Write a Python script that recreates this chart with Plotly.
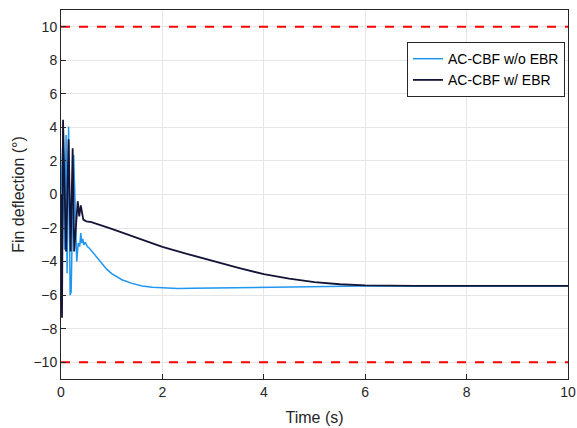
import plotly.graph_objects as go

# Time (s) and fin deflection (deg) for each series
t_wo = [0, 0.03, 0.07, 0.10, 0.12, 0.15, 0.18, 0.20, 0.25, 0.31, 0.34, 0.37, 0.39, 0.41, 0.43,
        0.45, 0.48, 0.52, 0.56, 0.6, 0.7, 0.8, 0.9, 1.0, 1.2, 1.4, 1.6, 1.8, 2.0, 2.3, 2.6,
        3.0, 4.0, 5.0, 6.0, 7.0, 10.0]
y_wo = [0, 2.8, -3.3, 3.55, -4.7, 4.05, -6.0, -5.8, 2.36, -4.0, -2.9, -3.1, -2.3, -2.9, -2.65,
        -3.0, -2.85, -3.1, -3.2, -3.35, -3.7, -4.1, -4.45, -4.72, -5.08, -5.3, -5.45, -5.53, -5.57, -5.6, -5.59,
        -5.57, -5.53, -5.49, -5.46, -5.45, -5.45]

t_w = [0, 0.02, 0.04, 0.10, 0.15, 0.19, 0.23, 0.26, 0.33, 0.36, 0.39, 0.44, 0.5, 0.6,
       1.0, 1.5, 2.0, 2.5, 3.0, 3.5, 4.0, 4.5, 5.0, 5.5, 6.0, 6.5, 7.0, 10.0]
y_w = [0, -7.35, 4.45, -3.4, 3.3, -3.4, 2.75, -3.4, -0.4, -1.3, -0.65, -1.5, -1.6, -1.65,
       -2.05, -2.58, -3.12, -3.55, -3.97, -4.37, -4.75, -5.02, -5.22, -5.35, -5.42, -5.45, -5.45, -5.45]

limit_t = [0, 10]
upper_limit = [10, 10]
lower_limit = [-10, -10]

x_ticks = [0, 2, 4, 6, 8, 10]
y_ticks = [-10, -8, -6, -4, -2, 0, 2, 4, 6, 8, 10]

fig = go.Figure()
fig.add_trace(go.Scatter(x=t_wo, y=y_wo, mode="lines", name="AC-CBF w/o EBR",
                         line=dict(color="#1f96f0", width=1.5)))
fig.add_trace(go.Scatter(x=t_w, y=y_w, mode="lines", name="AC-CBF w/ EBR",
                         line=dict(color="#141438", width=1.8)))
fig.add_trace(go.Scatter(x=limit_t, y=upper_limit, mode="lines", showlegend=False,
                         line=dict(color="#ff0000", width=2, dash="dash")))
fig.add_trace(go.Scatter(x=limit_t, y=lower_limit, mode="lines", showlegend=False,
                         line=dict(color="#ff0000", width=2, dash="dash")))

axis_common = dict(showgrid=True, gridcolor="#e6e6e6", gridwidth=1, zeroline=False,
                   showline=True, linecolor="#262626", linewidth=1, mirror=True,
                   ticks="inside", ticklen=5, tickcolor="#262626", automargin=False,
                   tickfont=dict(family="Liberation Sans, Arial", size=14, color="#262626"))

fig.update_layout(
    width=577, height=428,
    margin=dict(l=61, r=9, t=10, b=49),
    paper_bgcolor="white", plot_bgcolor="white",
    font=dict(family="Liberation Sans, Arial", size=14, color="#262626"),
    xaxis=dict(range=[0, 10], tickvals=x_ticks, title=dict(text="Time (s)", standoff=13,
               font=dict(size=16)), **axis_common),
    yaxis=dict(range=[-11, 11], tickvals=y_ticks, title=dict(text="Fin deflection (°)", standoff=4,
               font=dict(size=16)), **axis_common),
    legend=dict(x=0.994, y=0.913, xanchor="right", yanchor="top",
                bgcolor="white", bordercolor="#262626", borderwidth=1,
                font=dict(family="Liberation Sans, Arial", size=14, color="#000000"),
                tracegroupgap=0, itemwidth=30),
    showlegend=True,
)

fig.write_html(
    "out.html",
    config={"displayModeBar": False, "responsive": False},
    post_script=(
        "document.body.style.margin='0';"
        "document.documentElement.style.overflow='hidden';"
    ),
)
